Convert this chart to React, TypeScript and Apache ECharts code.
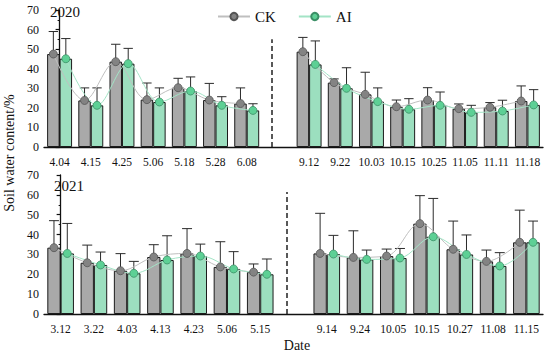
import React, { useEffect, useRef } from 'react';
import * as echarts from 'echarts';

const cats2020 = ['4.04', '4.15', '4.25', '5.06', '5.18', '5.28', '6.08', '', '9.12', '9.22', '10.03', '10.15', '10.25', '11.05', '11.11', '11.18'];
const ck2020 = [47.5, 23.8, 43.6, 24.2, 30.3, 24.0, 22.2, null, 48.7, 32.9, 26.9, 20.6, 24.0, 19.6, 20.3, 23.5];
const ckErr2020 = [11.5, 6.4, 8.9, 8.5, 4.8, 8.5, 8.0, null, 7.3, 1.9, 11.3, 3.4, 6.3, 2.4, 2.4, 7.7];
const ai2020 = [45.1, 21.3, 42.6, 23.0, 28.6, 21.3, 18.7, null, 42.2, 30.0, 23.2, 19.3, 21.3, 17.7, 18.4, 21.5];
const aiErr2020 = [10.3, 8.9, 7.8, 7.2, 7.2, 4.4, 3.4, null, 12.0, 10.5, 7.0, 5.4, 6.8, 3.6, 5.5, 7.8];

const cats2021 = ['3.12', '3.22', '4.03', '4.13', '4.23', '5.06', '5.15', '', '9.14', '9.24', '10.05', '10.15', '10.27', '11.08', '11.15'];
const ck2021 = [33.4, 25.8, 21.8, 28.7, 30.5, 23.7, 21.1, null, 30.5, 28.5, 29.2, 45.5, 32.6, 26.5, 36.1];
const ckErr2021 = [13.6, 8.9, 8.6, 6.2, 12.5, 12.7, 4.1, null, 20.2, 13.4, 3.5, 14.1, 14.2, 5.7, 16.2];
const ai2021 = [30.5, 24.7, 20.5, 27.2, 29.2, 22.7, 20.0, null, 30.2, 27.5, 28.2, 38.9, 30.0, 24.2, 36.1];
const aiErr2021 = [15.1, 6.5, 6.0, 12.2, 6.0, 8.7, 7.7, null, 9.4, 4.7, 4.8, 19.3, 9.8, 6.7, 10.7];

const yTicks = [0, 10, 20, 30, 40, 50, 60, 70];
const dashTop = [55, 61.5];

const FONT = 'Liberation Serif';
const CK_BAR = '#a9a9a9';
const AI_BAR = '#9cdfbf';
const CK_LINE = '#bfbfbf';
const AI_LINE = '#a3e4c6';
const CK_DOT = '#838383';
const AI_DOT = '#5dd095';
const OFF = 0.2;

function errRender(sign: number) {
  return (params: any, api: any) => {
    const i = api.value(0);
    const v = api.value(1);
    const e = api.value(2);
    const bw = api.size([1, 0])[0];
    const p0 = api.coord([i, v]);
    const p1 = api.coord([i, v + e]);
    const x = p0[0] + sign * bw * OFF;
    const cw = bw * 0.15;
    const st = { stroke: '#2b2b2b', lineWidth: 1 };
    return {
      type: 'group',
      children: [
        { type: 'line', shape: { x1: x, y1: p0[1], x2: x, y2: p1[1] }, style: st },
        { type: 'line', shape: { x1: x - cw, y1: p1[1], x2: x + cw, y2: p1[1] }, style: st },
      ],
    };
  };
}

function errData(vals: (number | null)[], errs: (number | null)[]) {
  const out: any[] = [];
  vals.forEach((v, i) => {
    if (v != null && errs[i] != null) out.push([i, v, errs[i]]);
  });
  return out;
}

function lineData(vals: (number | null)[], sign: number) {
  return vals.map((v, i) => (v == null ? [i, '-'] : [i + sign * OFF, v]));
}

function panel(gi: number, cats: string[], ck: any[], ckE: any[], ai: any[], aiE: any[], dashV: number) {
  const cx = gi * 2;
  const vx = gi * 2 + 1;
  const gap = cats.indexOf('');
  return [
    {
      name: 'CK bar', type: 'bar', xAxisIndex: cx, yAxisIndex: gi,
      data: ck.map((v) => (v == null ? '-' : v)),
      barGap: '0%', barCategoryGap: '20%',
      itemStyle: { color: CK_BAR, borderColor: '#1c1c1c', borderWidth: 1 },
      z: 2,
      markLine: {
        silent: true, symbol: 'none', animation: false,
        label: { show: false },
        lineStyle: { type: [5, 3], color: '#222', width: 1.5 },
        data: [[{ coord: [gap, 0] }, { coord: [gap, dashV] }]],
      },
    },
    {
      name: 'AI bar', type: 'bar', xAxisIndex: cx, yAxisIndex: gi,
      data: ai.map((v) => (v == null ? '-' : v)),
      barGap: '0%', barCategoryGap: '20%',
      itemStyle: { color: AI_BAR, borderColor: '#1c1c1c', borderWidth: 1 },
      z: 2,
    },
    {
      name: 'CK err', type: 'custom', xAxisIndex: cx, yAxisIndex: gi,
      renderItem: errRender(-1), data: errData(ck, ckE), encode: { x: 0, y: 1 }, z: 3,
    },
    {
      name: 'AI err', type: 'custom', xAxisIndex: cx, yAxisIndex: gi,
      renderItem: errRender(1), data: errData(ai, aiE), encode: { x: 0, y: 1 }, z: 3,
    },
    {
      name: 'CK', type: 'line', xAxisIndex: vx, yAxisIndex: gi,
      data: lineData(ck, -1), smooth: 0.35, connectNulls: false,
      symbol: 'circle', symbolSize: 8,
      lineStyle: { color: CK_LINE, width: 1 },
      itemStyle: { color: CK_DOT, borderColor: '#555', borderWidth: 0.8 },
      z: 4,
    },
    {
      name: 'AI', type: 'line', xAxisIndex: vx, yAxisIndex: gi,
      data: lineData(ai, 1), smooth: 0.35, connectNulls: false,
      symbol: 'circle', symbolSize: 8,
      lineStyle: { color: AI_LINE, width: 1 },
      itemStyle: { color: AI_DOT, borderColor: '#3b8f66', borderWidth: 0.8 },
      z: 4,
    },
  ];
}

function catAxis(gi: number, cats: string[]) {
  return {
    type: 'category', gridIndex: gi, data: cats, boundaryGap: true,
    axisLine: { lineStyle: { color: '#111', width: 1.3 } },
    axisTick: {
      alignWithLabel: true, length: 4, lineStyle: { color: '#111', width: 1.2 },
      interval: (idx: number, val: string) => val !== '',
    },
    axisLabel: { interval: 0, fontFamily: FONT, fontSize: 11.5, color: '#111', margin: 9 },
    splitLine: { show: false },
  };
}

function valAxisX(gi: number, n: number) {
  return { type: 'value', gridIndex: gi, min: -0.5, max: n - 0.5, show: false };
}

function yAxis(gi: number) {
  return {
    type: 'value', gridIndex: gi,
    min: yTicks[0], max: yTicks[yTicks.length - 1], interval: yTicks[1] - yTicks[0],
    axisLine: { show: true, lineStyle: { color: '#111', width: 1.3 } },
    axisTick: { show: true, length: 4, lineStyle: { color: '#111', width: 1.2 } },
    minorTick: { show: true, splitNumber: 2, length: 2, lineStyle: { color: '#111', width: 1 } },
    axisLabel: { fontFamily: FONT, fontSize: 12, color: '#111', margin: 5 },
    splitLine: { show: false },
  };
}

export default function App() {
  const ref = useRef<HTMLDivElement>(null);
  useEffect(() => {
    if (!ref.current) return;
    const chart = echarts.init(ref.current, null, { renderer: 'svg' });
    chart.setOption({
      animation: false,
      backgroundColor: '#fff',
      grid: [
        { left: 44, right: 7, top: 10, height: 137 },
        { left: 44, right: 7, top: 175, height: 139 },
      ],
      legend: {
        data: ['CK', 'AI'], top: 4, left: 212,
        itemWidth: 32, itemHeight: 9, itemGap: 22,
        textStyle: { fontFamily: FONT, fontSize: 15, color: '#111' },
      },
      xAxis: [
        catAxis(0, cats2020), valAxisX(0, cats2020.length),
        catAxis(1, cats2021), valAxisX(1, cats2021.length),
      ],
      yAxis: [yAxis(0), yAxis(1)],
      graphic: [
        { type: 'text', left: 50, top: 4, style: { text: '2020', font: `15px "${FONT}"`, fill: '#111' } },
        { type: 'text', left: 54, top: 178, style: { text: '2021', font: `15px "${FONT}"`, fill: '#111' } },
        {
          type: 'text', x: 9, y: 153, rotation: Math.PI / 2,
          style: { text: 'Soil water content/%', font: `14px "${FONT}"`, fill: '#111', align: 'center', verticalAlign: 'middle' },
        },
        {
          type: 'text', x: 297, y: 345,
          style: { text: 'Date', font: `14px "${FONT}"`, fill: '#111', align: 'center', verticalAlign: 'middle' },
        },
      ],
      series: [
        ...panel(0, cats2020, ck2020, ckErr2020, ai2020, aiErr2020, dashTop[0]),
        ...panel(1, cats2021, ck2021, ckErr2021, ai2021, aiErr2021, dashTop[1]),
      ],
    });
    return () => chart.dispose();
  }, []);
  return <div ref={ref} style={{ position: 'fixed', left: 0, top: 0, width: 550, height: 355 }} />;
}
